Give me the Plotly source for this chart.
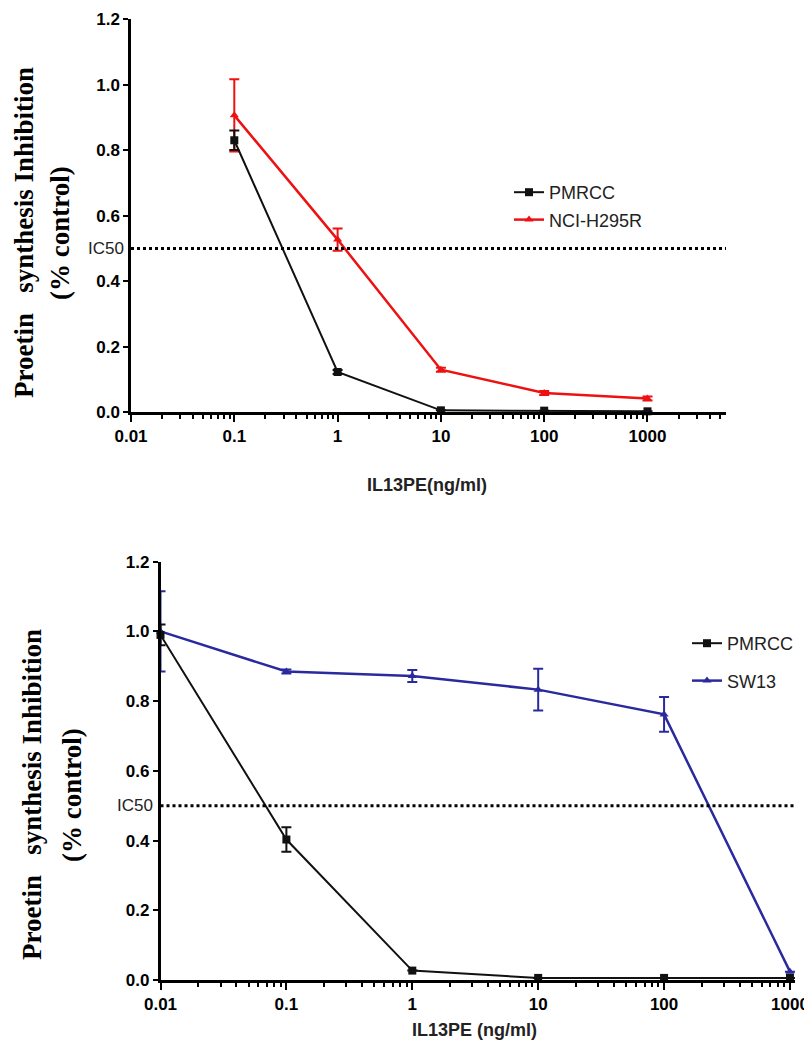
import plotly.graph_objects as go

# ---------------- data ----------------
conc_top = [0.1, 1, 10, 100, 1000]
pmrcc_top = [0.83, 0.123, 0.006, 0.005, 0.003]
pmrcc_top_err = [0.03, 0.006, 0.0, 0.0, 0.0]
nci_top = [0.906, 0.527, 0.130, 0.059, 0.042]
nci_top_err = [0.11, 0.034, 0.006, 0.006, 0.006]

conc_bot = [0.01, 0.1, 1, 10, 100, 1000]
pmrcc_bot = [0.99, 0.403, 0.027, 0.006, 0.006, 0.006]
pmrcc_bot_err = [0.03, 0.035, 0.0, 0.0, 0.0, 0.0]
sw13_bot = [1.0, 0.885, 0.872, 0.833, 0.762, 0.024]
sw13_bot_err = [0.115, 0.006, 0.017, 0.06, 0.05, 0.0]

ic50 = 0.5
y_ticks = [0, 0.2, 0.4, 0.6, 0.8, 1.0, 1.2]
x_ticks = [0.01, 0.1, 1, 10, 100, 1000]
x_ticktext = ["0.01", "0.1", "1", "10", "100", "1000"]
minor_top = [m * 10 ** e for e in range(-2, 4) for m in range(2, 10) if m * 10 ** e < 5500]
minor_bot = [m * 10 ** e for e in range(-2, 3) for m in range(2, 10)]

y_title_1 = "Proetin\u00a0\u00a0 synthesis Inhibition"
y_title_2 = "(% control)"
x_title_top = "IL13PE(ng/ml)"
x_title_bot = "IL13PE (ng/ml)"

BLACK = "#111111"
RED = "#ee1111"
BLUE = "#2a2a9e"

W, H = 812, 1050
OFF = 8  # page body margin


def px(v):
    return (v - OFF) / W


def py(v):
    return 1 - (v - OFF) / H


fig = go.Figure()


def add_series(x, y, err, name, color, symbol, xa, ya, legend, lw, rank):
    fig.add_trace(go.Scatter(
        x=x, y=y, name=name, mode="lines+markers",
        line=dict(color=color, width=lw),
        marker=dict(symbol=symbol, size=8, color=color),
        error_y=dict(type="data", array=err, color=color, thickness=2, width=5),
        xaxis=xa, yaxis=ya, legend=legend, legendgroup=name + legend,
        legendrank=rank, cliponaxis=False,
    ))


add_series(conc_top, nci_top, nci_top_err, "NCI-H295R", RED, "triangle-up", "x", "y", "legend", 2.5, 2)
add_series(conc_top, pmrcc_top, pmrcc_top_err, "PMRCC", BLACK, "square", "x", "y", "legend", 2, 1)
add_series(conc_bot, sw13_bot, sw13_bot_err, "SW13", BLUE, "triangle-up", "x2", "y2", "legend2", 2.5, 2)
add_series(conc_bot, pmrcc_bot, pmrcc_bot_err, "PMRCC", BLACK, "square", "x2", "y2", "legend2", 2, 1)

tick_font = dict(family="Liberation Sans", size=17, color="black", weight="bold")


def xaxis_cfg(domain, rng, anchor, minor_vals):
    return dict(
        type="log", domain=domain, range=rng, anchor=anchor, automargin=False,
        showline=True, linecolor="black", linewidth=2.5,
        ticks="outside", ticklen=7, tickwidth=2, tickcolor="black",
        tickvals=x_ticks, ticktext=x_ticktext, tickfont=tick_font,
        showgrid=False, zeroline=False,
        minor=dict(tickvals=minor_vals, ticks="outside", ticklen=4, tickwidth=2,
                   tickcolor="black", showgrid=False),
    )


def yaxis_cfg(domain, anchor):
    return dict(
        domain=domain, range=[0, 1.2], anchor=anchor, automargin=False,
        showline=True, linecolor="black", linewidth=2.5,
        ticks="outside", ticklen=5, tickwidth=2, tickcolor="black",
        tickvals=y_ticks, tickformat=".1f", tickfont=tick_font,
        showgrid=False, zeroline=False,
    )


fig.update_layout(
    template="none",
    width=W, height=H, margin=dict(l=0, r=0, t=0, b=0, pad=0, autoexpand=False),
    paper_bgcolor="white", plot_bgcolor="white",
    xaxis=xaxis_cfg([px(131), px(726)], [-2, 3.76], "y", minor_top),
    yaxis=yaxis_cfg([py(412.3), py(19)], "x"),
    xaxis2=xaxis_cfg([px(160.5), px(795)], [-2, 3.04], "y2", minor_bot),
    yaxis2=yaxis_cfg([py(980), py(561.7)], "x2"),
    legend=dict(x=501 / W, y=1 - 166 / H, xanchor="left", yanchor="top",
                font=dict(family="Liberation Sans", size=18, color="#222222"),
                traceorder="grouped", tracegroupgap=1, bgcolor="rgba(0,0,0,0)"),
    legend2=dict(x=679 / W, y=1 - 617 / H, xanchor="left", yanchor="top",
                 font=dict(family="Liberation Sans", size=18, color="#222222"),
                 traceorder="grouped", tracegroupgap=11, bgcolor="rgba(0,0,0,0)"),
    showlegend=True,
)

# IC50 dashed lines
for xr, yr in (("x domain", "y"), ("x2 domain", "y2")):
    fig.add_shape(type="line", xref=xr, yref=yr, x0=0, x1=1, y0=ic50, y1=ic50,
                  line=dict(color="black", width=3, dash="3px,3px"))

ic_font = dict(family="Liberation Sans Narrow, Liberation Sans", size=17, color="#222222")
fig.add_annotation(text="IC50", xref="x domain", yref="y", x=0, y=ic50, xanchor="right",
                   xshift=-5, showarrow=False, font=ic_font)
fig.add_annotation(text="IC50", xref="x2 domain", yref="y2", x=0, y=ic50, xanchor="right",
                   xshift=-6, showarrow=False, font=ic_font)

# axis titles
title_font = dict(family="Liberation Serif", size=27, color="black", weight="bold")
for (x1, x2, yc) in ((24, 60, 233), (32, 72, 795)):
    fig.add_annotation(text=y_title_1, xref="paper", yref="paper", x=px(x1), y=py(yc),
                       textangle=-90, showarrow=False, font=title_font,
                       xanchor="center", yanchor="middle")
    fig.add_annotation(text=y_title_2, xref="paper", yref="paper", x=px(x2), y=py(yc),
                       textangle=-90, showarrow=False, font=title_font,
                       xanchor="center", yanchor="middle")

xt_font = dict(family="Liberation Sans", size=18, color="#222222", weight="bold")
fig.add_annotation(text=x_title_top, xref="paper", yref="paper", x=px(427), y=py(485),
                   showarrow=False, font=xt_font, xanchor="center", yanchor="middle")
fig.add_annotation(text=x_title_bot, xref="paper", yref="paper", x=px(474), y=py(1030),
                   showarrow=False, font=xt_font, xanchor="center", yanchor="middle")

fig.write_html("out.html")
